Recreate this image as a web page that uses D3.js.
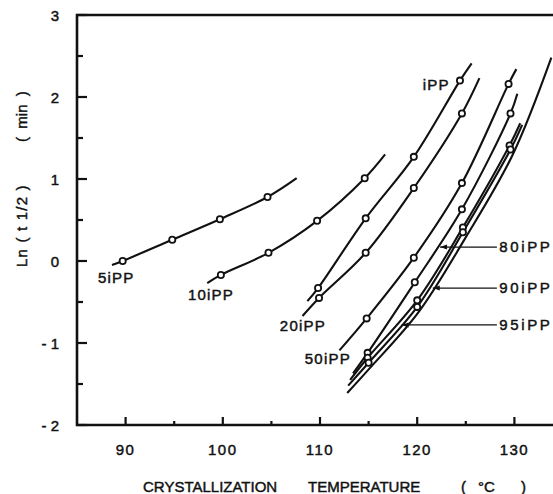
<!DOCTYPE html>
<html lang="en">
<head>
<meta charset="UTF-8">
<title>crystallization half-time</title>
<script src="https://d3js.org/d3.v7.min.js"></script>
<style>
  body { margin: 0; background: #fff; }
  svg text { font-family: "Liberation Sans", Arial, sans-serif; fill: #111; stroke: #111; stroke-width: 0.45px; white-space: pre; }
</style>
</head>
<body>
<div id="chart"></div>
<script>
// measured points [T (°C), ln t1/2]
var pp5 = [[89.7, 0.0], [94.8, 0.26], [99.7, 0.51], [104.6, 0.78]];
var pp10 = [[99.8, -0.17], [104.7, 0.10], [109.7, 0.49], [114.6, 1.01]];
var ipp = [[109.8, -0.33], [114.7, 0.52], [119.65, 1.27], [124.4, 2.20]];
var pp20 = [[109.9, -0.45], [114.7, 0.10], [119.65, 0.89], [124.6, 1.80]];
var pp50 = [[114.8, -0.70], [119.65, 0.04], [124.6, 0.95], [129.4, 2.16]];
var pp80 = [[114.9, -1.12], [119.75, -0.26], [124.6, 0.63], [129.6, 1.80]];
var pp90 = [[114.9, -1.18], [120.0, -0.48], [124.7, 0.41], [129.5, 1.41]];
var pp95 = [[115.0, -1.24], [120.0, -0.56], [124.7, 0.35], [129.6, 1.36]];

// fitted line ends [start, end]
var pp5Ends = [[88.6, -0.05], [107.6, 1.01]];
var pp10Ends = [[98.4, -0.27], [116.7, 1.30]];
var ippEnds = [[108.7, -0.49], [125.6, 2.41]];
var pp20Ends = [[108.2, -0.67], [126.4, 2.23]];
var pp50Ends = [[112.0, -1.09], [130.2, 2.34]];
var pp80Ends = [[113.4, -1.37], [130.3, 2.04]];
var pp90Ends = [[113.1, -1.45], [130.6, 1.68]];
var pp95Ends = [[112.9, -1.52], [130.8, 1.66]];
// outer line, no markers of its own
var ppExtPath = [[112.8, -1.61], [115.1, -1.31], [120.1, -0.63], [124.9, 0.27], [129.8, 1.29], [133.8, 2.48]];

var yTicks = [-2, -1, 0, 1, 2, 3];
var yMinor = [-1.5, -0.5, 0.5, 1.5, 2.5];
var xTicks = [90, 100, 110, 120, 130];
var xMinor = [95, 105, 115, 125, 135];

var width = 553, height = 494;
var x = d3.scaleLinear().domain([85, 135]).range([77, 563]);
var y = d3.scaleLinear().domain([-2, 3]).range([425, 15]);

var svg = d3.select("#chart").append("svg")
  .attr("width", width).attr("height", height);

var ink = "#111";

// frame: top, left, bottom
svg.append("path")
  .attr("d", "M" + width + "," + y(3) + "H" + x(85) + "V" + y(-2) + "H" + width)
  .attr("fill", "none").attr("stroke", ink).attr("stroke-width", 2.6);

// inward ticks
function yTick(vals, len) {
  svg.selectAll(null).data(vals).enter().append("line")
    .attr("x1", x(85)).attr("x2", x(85) + len)
    .attr("y1", function (d) { return y(d); }).attr("y2", function (d) { return y(d); })
    .attr("stroke", ink).attr("stroke-width", 2.2);
}
function xTick(vals, len) {
  svg.selectAll(null).data(vals).enter().append("line")
    .attr("x1", function (d) { return x(d); }).attr("x2", function (d) { return x(d); })
    .attr("y1", y(-2)).attr("y2", y(-2) - len)
    .attr("stroke", ink).attr("stroke-width", 2.2);
}
yTick(yTicks, 10);
yTick(yMinor, 6);
xTick(xTicks, 8);
xTick(xMinor, 4);

svg.selectAll(null).data(yTicks).enter().append("text")
  .attr("x", x(85) - 18).attr("y", function (d) { return y(d) + 5.5; })
  .attr("text-anchor", "end").style("font-size", "15px")
  .text(function (d) { return d < 0 ? "- " + Math.abs(d) : d; });

svg.selectAll(null).data(xTicks).enter().append("text")
  .attr("x", function (d) { return x(d); }).attr("y", y(-2) + 30)
  .attr("text-anchor", "middle").attr("letter-spacing", 1.5).style("font-size", "15px")
  .text(function (d) { return d; });

var line = d3.line()
  .x(function (d) { return x(d[0]); })
  .y(function (d) { return y(d[1]); })
  .curve(d3.curveCatmullRom.alpha(0.5));

var series = [
  [pp5, pp5Ends], [pp10, pp10Ends], [ipp, ippEnds], [pp20, pp20Ends],
  [pp50, pp50Ends], [pp80, pp80Ends], [pp90, pp90Ends], [pp95, pp95Ends]
];

series.forEach(function (s) {
  var pts = [s[1][0]].concat(s[0], [s[1][1]]);
  svg.append("path").attr("d", line(pts))
    .attr("fill", "none").attr("stroke", ink).attr("stroke-width", 2.1);
});
svg.append("path").attr("d", line(ppExtPath))
  .attr("fill", "none").attr("stroke", ink).attr("stroke-width", 2.1);

series.forEach(function (s) {
  svg.selectAll(null).data(s[0]).enter().append("circle")
    .attr("cx", function (d) { return x(d[0]); })
    .attr("cy", function (d) { return y(d[1]); })
    .attr("r", 3.1)
    .attr("fill", "#fff").attr("stroke", ink).attr("stroke-width", 1.8);
});

// curve labels (anchor in data units), last field = letter spacing
var labels = [
  ["5iPP", 87.16, -0.27, "start", 1.2],
  ["10iPP", 96.41, -0.48, "start", 1.2],
  ["20iPP", 105.87, -0.85, "start", 1.2],
  ["50iPP", 108.44, -1.26, "start", 1.2],
  ["iPP", 123.35, 2.09, "end", 1.2],
  ["80iPP", 128.45, 0.11, "start", 2.6],
  ["90iPP", 128.45, -0.39, "start", 2.6],
  ["95iPP", 128.45, -0.84, "start", 2.6]
];
svg.selectAll(null).data(labels).enter().append("text")
  .attr("x", function (d) { return x(d[1]); })
  .attr("y", function (d) { return y(d[2]); })
  .attr("text-anchor", function (d) { return d[3]; })
  .attr("letter-spacing", function (d) { return d[4]; })
  .style("font-size", "15px")
  .text(function (d) { return d[0]; });

// leader lines: [from T, to T, v]
var leaders = [[122.35, 128.2, 0.17], [121.6, 128.2, -0.33], [118.4, 128.2, -0.78]];
leaders.forEach(function (l) {
  svg.append("line")
    .attr("x1", x(l[0])).attr("x2", x(l[1]))
    .attr("y1", y(l[2])).attr("y2", y(l[2]))
    .attr("stroke", ink).attr("stroke-width", 1.3);
  var ax = x(l[0]), ay = y(l[2]);
  svg.append("path")
    .attr("d", "M" + ax + "," + ay + "l7,-2.5l0,5z")
    .attr("fill", ink);
});

// axis titles
var xTitle = [["CRYSTALLIZATION", 143], ["TEMPERATURE", 308], ["(", 461], ["°C", 478], [")", 521]];
svg.selectAll(null).data(xTitle).enter().append("text")
  .attr("x", function (d) { return d[1]; }).attr("y", 492)
  .style("font-size", "15px")
  .text(function (d) { return d[0]; });

svg.append("text")
  .attr("transform", "translate(27,267) rotate(-90)")
  .style("font-size", "15px").attr("letter-spacing", 1.2)
  .text("Ln ( t 1/2 )");
svg.append("text")
  .attr("transform", "translate(27,142) rotate(-90)")
  .style("font-size", "15px")
  .text("(  min  )");
</script>
</body>
</html>
